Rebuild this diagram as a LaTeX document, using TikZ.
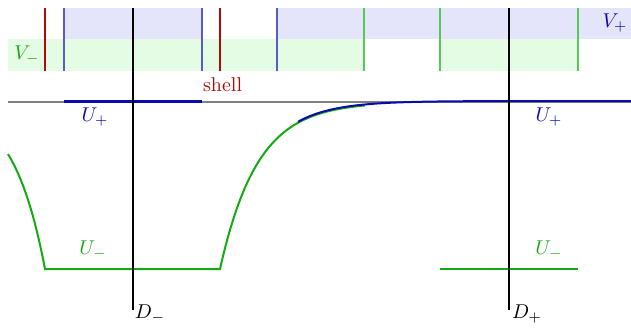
\documentclass[tikz,border=0pt]{standalone}
\usepackage{xcolor}
\definecolor{bandblau}{RGB}{228,228,250}
\definecolor{bandgruen}{RGB}{228,252,228}
\definecolor{blau}{RGB}{10,10,170}
\definecolor{hellblau}{RGB}{90,90,205}
\definecolor{gruen}{RGB}{20,170,20}
\definecolor{hellgruen}{RGB}{85,200,85}
\definecolor{rot}{RGB}{175,10,10}

\begin{document}
\begin{tikzpicture}
    [
    x=0.5pt, y=-0.5pt, font=\normalsize,
    %Voreinstellung für Linien
    wand/.style={line width=0.8pt},
    achse/.style={black, line width=1pt},
    kurve/.style={line width=1pt}
    ]
    \useasboundingbox (0,0) rectangle (631,331);
    
    %Bänder im Hintergrund
    \fill[bandblau] (64,8) rectangle (202,39);
    \fill[bandblau] (277,8) rectangle (631,39);
    \fill[bandgruen] (8,39) rectangle (364,71);
    \fill[bandgruen] (440,39) rectangle (578,71);
    
    %Ränder der Bänder
    \foreach \x in {45,220}
    \draw[wand, rot] (\x,8) -- (\x,71);
    \foreach \x in {64,202,277}
    \draw[wand, hellblau] (\x,8) -- (\x,71);
    \foreach \x in {364,440,578}
    \draw[wand, hellgruen] (\x,8) -- (\x,71);
    
    %Nulllinie
    \draw[gray, line width=1pt] (8,102) -- (631,102);
    
    %U_+ innen
    \draw[blau, line width=1.5pt] (64,102) -- (202,102);
    
    %U_- mit Ausläufern
    \draw[gruen, kurve] plot[domain=8:45, samples=40]
    (\x, {102+167*exp(-0.0315*(45-\x))}) -- (220,269)
    -- plot[domain=220:365, samples=80] (\x, {102+167*exp(-0.0267*(\x-220))});
    \draw[gruen, kurve] (440,269) -- (578,269);
    
    %U_+ außen
    \draw[blau, kurve] plot[domain=298:631, samples=100]
    (\x, {101+167*exp(-0.0267*(\x-220))});
    
    %Achsen D_- und D_+
    \draw[achse] (133,8) -- (133,310);
    \draw[achse] (509,8) -- (509,310);
    
    %Beschriftung
    \node[gruen] (vminus) at (27,55) {$V_-$};
    \node[blau] (vplus) at (615,23) {$V_+$};
    \node[rot, anchor=west] (shell) at (196,85) {shell};
    \node[blau] (uplus1) at (95,117) {$U_+$};
    \node[blau] (uplus2) at (549,117) {$U_+$};
    \node[gruen] (uminus1) at (93,250) {$U_-$};
    \node[gruen] (uminus2) at (549,250) {$U_-$};
    \node (dminus) at (150,314) {$D_-$};
    \node (dplus) at (527,314) {$D_+$};
\end{tikzpicture}
\end{document}
